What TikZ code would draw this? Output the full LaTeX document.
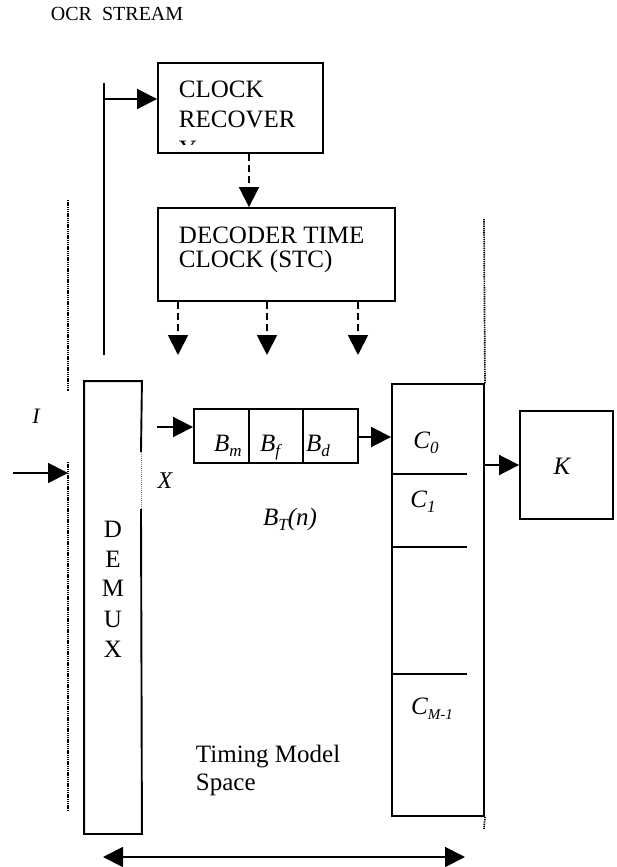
\documentclass[tikz,border=0pt]{standalone}
\usepackage{fontspec}
\setmainfont{Liberation Serif}
\usetikzlibrary{arrows.meta}
\newcommand{\sbs}[1]{\raisebox{-5pt}{\fontsize{17}{17}\selectfont #1}}
\newcommand{\sbsm}[1]{\raisebox{-5pt}{\fontsize{15}{15}\selectfont #1}}
\begin{document}
\begin{tikzpicture}[x=1pt,y=-1pt,
  line width=1.9pt,
  tip/.style={-{Triangle[length=20pt,width=20pt]}},
  box/.style={draw, line width=1.9pt, inner sep=0pt},
  dasharrow/.style={tip, dash pattern=on 7pt off 4pt},
  dotline/.style={line width=1.7pt, dash pattern=on 1.3pt off 0.9pt},
  txt/.style={font=\fontsize{25}{30}\selectfont, inner sep=0pt, anchor=base west},
  itx/.style={font=\fontsize{25}{30}\selectfont\itshape, inner sep=0pt, anchor=base},
  upc/.style={font=\fontsize{25}{30}\selectfont, inner sep=0pt, anchor=base},
]
\useasboundingbox (0,0) rectangle (616,867);

% title
\node[anchor=base west, inner sep=0pt, font=\fontsize{20}{22}\selectfont] (ocr) at (50,21) {OCR\ \ STREAM};

% boxes
\node[box, minimum width=165pt, minimum height=90pt] (cr) at (240.5,108) {};
\node[box, minimum width=237pt, minimum height=93pt] (dec) at (276.5,254.5) {};
\node[inner sep=0pt, minimum width=56pt, minimum height=451pt] (demux) at (113,607.5) {};
\node[box, minimum width=55pt, minimum height=54pt] (bm) at (221.5,436) {};
\node[box, minimum width=54pt, minimum height=54pt] (bf) at (276,436) {};
\node[box, minimum width=55pt, minimum height=54pt] (bd) at (330.5,436) {};
\node[box, minimum width=92pt, minimum height=432pt] (cb) at (438,600) {};
\node[box, minimum width=93pt, minimum height=108pt] (kb) at (566.5,465) {};

% demux outline (right edge faint where X label sits)
\draw (141,452) -- (demux.north east) -- (demux.north west) -- (demux.south west) -- (demux.south east) -- (141,509);
\draw[gray, line width=0.6pt, dash pattern=on 1pt off 1pt] (141,452) -- (141,509);

% dividers in C box
\draw (cb.west |- 0,474) -- (467,474);
\draw (cb.west |- 0,547) -- (467,547);
\draw (cb.west |- 0,674) -- (467,674);

% texts in boxes
\node[txt] (cr1) at (178,97) {CLOCK};
\node[txt] (cr2) at (178,127) {RECOVER};
\begin{scope}
\clip (160,64) rectangle (321,144);
\node[txt] (cr3) at (178,157) {Y};
\end{scope}
\node[txt] (dc1) at (178,243) {DECODER TIME};
\node[txt] (dc2) at (178,267) {CLOCK (STC)};

\foreach \l/\y [count=\i] in {D/537,E/567,M/596,U/627,X/657}
  \node[upc] (dm\i) at (113,\y) {\l};

\node[itx] (lbm) at (228,451) {B\sbs{m}};
\node[itx] (lbf) at (270,451) {B\sbs{f}};
\node[itx] (lbd) at (318,451) {B\sbs{d}};
\node[itx] (lbt) at (290,525) {B\sbs{T}(n)};
\node[itx] (lc0) at (426,448) {C\sbs{0}};
\node[itx] (lc1) at (423,507) {C\sbs{1}};
\node[itx] (lcm) at (432,714) {C\sbsm{M-1}};
\node[itx] (lk) at (562,474) {K};
\node[itx, font=\fontsize{22}{26}\selectfont\itshape] (li) at (36,423) {I};
\node[itx, font=\fontsize{24}{28}\selectfont\itshape] (lx) at (165,488) {X};
\node[txt] (tm1) at (195,762) {Timing Model};
\node[txt] (tm2) at (195,790) {Space};

% stream line and arrow to clock recovery
\coordinate (stop) at (104,83);
\coordinate (sbot) at (104,355);
\draw (stop) -- (sbot);
\coordinate (j) at (104,99);
\draw[tip] (j) -- (j -| cr.west);

% dashed arrows
\draw[dasharrow] ([xshift=8.5pt]cr.south) -- ([xshift=8.5pt]cr.south |- dec.north);
\foreach \x [count=\i] in {178,267,358} {
  \coordinate (t\i) at (\x,355);
  \draw[dasharrow] (dec.south -| t\i) -- (t\i);
}

% input arrow
\coordinate (in) at (13,473);
\coordinate (inend) at (68,473);
\draw[tip] (in) -- (inend);

% buffer arrows
\coordinate (xin) at (157,427);
\draw[tip] (xin) -- (xin -| bm.west);
\draw[tip] ([yshift=-1pt]bd.east) -- ([yshift=-1pt]bd.east -| cb.west);
\draw[tip] (cb.east |- kb.west) -- (kb.west);

% dotted boundaries
\draw[dotline] (68,200) -- (68,391);
\draw[dotline] (68,462) -- (68,810);
\draw[dotline] (484,219) -- (cb.north east);
\draw[dotline] (cb.south east) -- (484,829);

% double arrow
\coordinate (dl) at (103,857);
\coordinate (dr) at (465,857);
\draw[{Triangle[length=20pt,width=20pt]}-{Triangle[length=20pt,width=20pt]}] (dl) -- (dr);
\end{tikzpicture}
\end{document}
